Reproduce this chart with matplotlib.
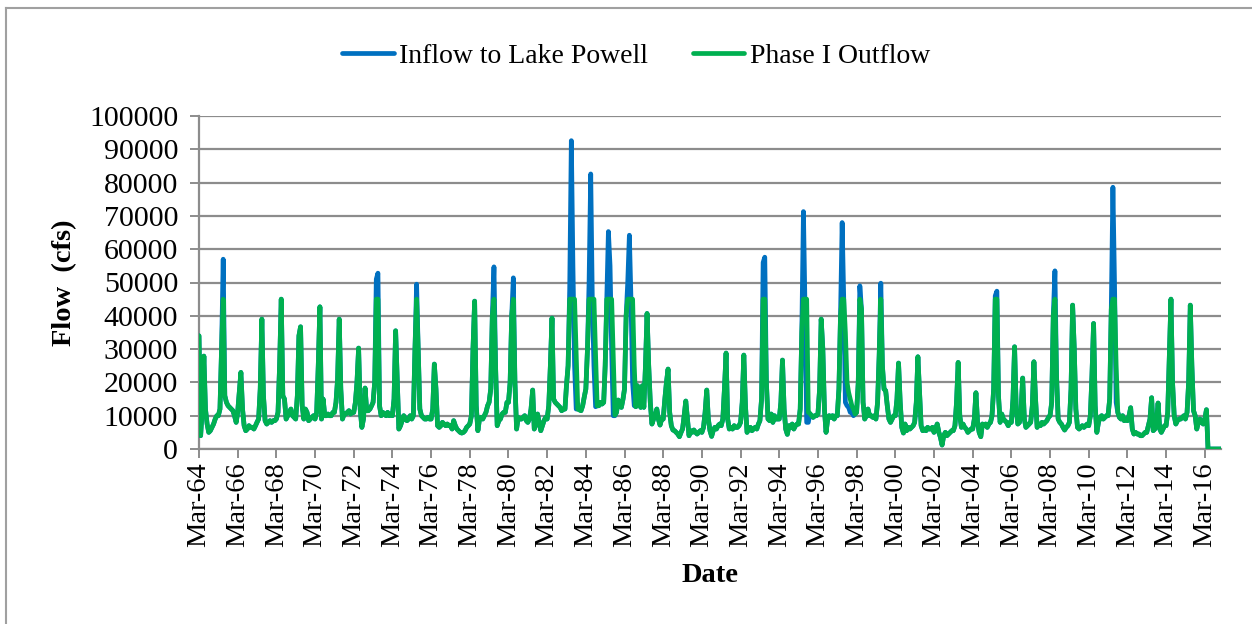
import matplotlib
matplotlib.use("Agg")
import matplotlib.pyplot as plt
import pandas as pd
from matplotlib.lines import Line2D

plt.rcParams['font.family'] = ['Liberation Serif', 'DejaVu Serif']

# Monthly mean flows in thousands of cfs; each row is one year running Mar..Feb
inflow_kcfs = [
    34, 4, 12, 27.9, 12, 7.5, 5, 5.5, 6.5, 7.5, 9, 10,            # 1964
    10, 12, 30, 57, 16, 14, 13, 12.5, 12, 11.5, 10, 8,            # 1965
    11, 17, 23, 12, 7, 5.5, 6, 7, 6.5, 6.5, 6, 7,                 # 1966
    8, 9, 18, 39, 16, 8.5, 7.5, 8, 8.5, 8, 8.5, 8.5,              # 1967
    9, 11, 25, 45, 16, 15, 9, 10, 11, 12, 10, 9.5,                # 1968
    9, 16, 34, 36.7, 13, 9, 12, 11, 8.5, 9, 9.5, 10,              # 1969
    9, 11, 25, 42.7, 9, 15, 10, 10, 10.5, 10, 10, 11,             # 1970
    11, 14, 21, 39, 18, 9, 10.5, 10.5, 11, 11.5, 10.5, 11,        # 1971
    11, 14, 20, 30.3, 12, 6.5, 9, 18.3, 11.5, 11.5, 12, 13,       # 1972
    14, 20, 51, 52.8, 13, 10, 11, 10.5, 10, 11, 10, 10.5,         # 1973
    10, 15, 35.5, 20, 6, 7, 8.5, 10, 9, 8.5, 9, 10,               # 1974
    9, 10, 30, 49.5, 30, 12, 10, 9.5, 9, 9, 9.5, 9,               # 1975
    9, 12, 25.5, 18, 7, 6.5, 7, 8, 7.5, 7, 7.5, 7,                # 1976
    7, 6, 8.5, 7, 6, 5.5, 5, 4.8, 5, 5.5, 6.5, 7,                 # 1977
    7.5, 10, 30, 44.4, 13, 5.5, 9, 9.5, 9, 10, 11, 13,            # 1978
    14, 18, 40, 54.7, 25, 7, 8.5, 9, 10.5, 11, 11, 14,            # 1979
    14, 20, 40, 51.4, 20, 6, 9.5, 9, 9, 9.5, 10, 8.5,             # 1980
    8, 9, 12, 17.7, 6, 7.5, 10.5, 8, 5.5, 7, 8.5, 9.5,            # 1981
    9, 13, 25, 39.3, 15, 14, 13.5, 13, 12.5, 11.5, 12, 12,        # 1982
    19, 25, 48, 92.6, 55, 25, 12, 12, 12, 11.5, 13, 15.7,         # 1983
    18, 30, 50, 82.6, 45, 25, 12.7, 13, 13, 14, 13.5, 14,         # 1984
    25, 45, 65.3, 55, 30, 10, 10, 11, 14.7, 13, 12.5, 15,         # 1985
    18, 40, 50, 64.2, 45, 20, 13, 12.7, 19, 15, 12.5, 19,         # 1986
    12.5, 25, 40.7, 25, 14, 7.5, 9, 10, 12, 9, 7.2, 9,            # 1987
    9, 15, 20, 24, 11, 7, 5.7, 5.5, 5, 4.5, 3.7, 5,               # 1988
    6, 10, 14.4, 9, 4, 5.5, 5, 5.7, 5, 4.5, 5, 5.5,               # 1989
    5, 6.5, 11, 17.7, 9, 5.5, 3.8, 5.5, 6.5, 6, 7, 7.5,           # 1990
    7, 9, 18, 28.8, 9, 6, 6.5, 6, 7, 6.5, 6.5, 7,                 # 1991
    8, 14, 28.2, 13, 5, 6, 6.5, 5.5, 6, 6.5, 6, 7.5,              # 1992
    8.5, 15, 56, 57.6, 20, 9, 8.5, 10.5, 8, 10, 9, 9,             # 1993
    9, 14, 26.7, 12, 6, 4.4, 7, 6.5, 7.5, 6, 7, 7.5,              # 1994
    7.5, 12, 35, 71.3, 42, 8, 8, 10.5, 10, 9.5, 10, 10,           # 1995
    10.5, 18, 39, 30, 12, 5, 9, 10, 9.5, 10, 9, 10,               # 1996
    10, 18, 40, 68, 45, 14, 13, 12.5, 11, 11, 10, 10.5,           # 1997
    11, 20, 49, 42, 14, 9, 10, 12, 10, 10, 9.5, 10,               # 1998
    9, 14, 28, 49.8, 25, 18, 17.5, 13, 9, 8, 9, 10,               # 1999
    10, 15, 25.8, 14, 6.5, 4.8, 7.5, 5.5, 6.5, 6, 6.5, 7,         # 2000
    8, 14, 27.7, 17, 7, 5.5, 6, 5.5, 6.5, 6, 6, 6.5,              # 2001
    5, 6, 7.5, 5, 3.5, 1.2, 4, 5, 4, 4.5, 5, 5.5,                 # 2002
    5.5, 7, 14, 26, 10, 6.5, 7.5, 6.5, 6, 5, 5.5, 6,              # 2003
    6, 9, 16.9, 8, 5, 3.7, 7.5, 7, 7.5, 6.5, 7.5, 8,              # 2004
    10, 18, 46, 47.4, 16, 8, 10.5, 9, 8.5, 8, 7, 8,               # 2005
    8, 15, 30.7, 12, 7.5, 8, 12, 21.3, 9, 6.5, 7, 7.5,            # 2006
    8, 13, 26.2, 15, 6.5, 7.5, 7, 8, 7.5, 8, 8.5, 9.5,            # 2007
    10, 14, 40, 53.5, 22, 9, 8, 7.5, 6.5, 5.7, 6.5, 7,            # 2008
    8, 18, 43.2, 30, 12, 6.5, 6, 6.5, 7, 6.5, 7, 7.5,             # 2009
    7, 10, 22, 37.7, 13, 5, 8, 9.5, 10, 9, 9.5, 10,               # 2010
    10, 15, 42, 78.6, 50, 14, 11, 9.5, 9, 10, 8.5, 9,             # 2011
    8.5, 10, 12.4, 6, 4.5, 5, 4.5, 4.5, 4, 4, 4.5, 5,             # 2012
    5, 7, 9, 15.4, 5.5, 6, 8, 13.8, 6, 5, 6, 7,                   # 2013
    7, 11, 28, 45, 20, 10, 7.5, 8.5, 9, 9, 9.5, 10,               # 2014
    9, 11, 20, 43.2, 25, 11.5, 10, 6, 8, 9, 8, 7.5,               # 2015
    9, 11.8, 0, 0, 0, 0, 0, 0, 0, 0, 0,                           # 2016
]

outflow_kcfs = [
    34, 4, 12, 27.9, 12, 7.5, 5, 5.5, 6.5, 7.5, 9, 10,            # 1964
    10, 12, 30, 45, 16, 14, 13, 12.5, 12, 11.5, 10, 8,            # 1965
    11, 17, 23, 12, 7, 5.5, 6, 7, 6.5, 6.5, 6, 7,                 # 1966
    8, 9, 18, 39, 16, 8.5, 7.5, 8, 8.5, 8, 8.5, 8.5,              # 1967
    9, 11, 25, 45, 16, 15, 9, 10, 11, 12, 10, 9.5,                # 1968
    9, 16, 34, 36.7, 13, 9, 12, 11, 8.5, 9, 9.5, 10,              # 1969
    9, 11, 25, 42.7, 9, 15, 10, 10, 10.5, 10, 10, 11,             # 1970
    11, 14, 21, 39, 18, 9, 10.5, 10.5, 11, 11.5, 10.5, 11,        # 1971
    11, 14, 20, 30.3, 12, 6.5, 9, 18.3, 11.5, 11.5, 12, 13,       # 1972
    14, 20, 45, 45, 13, 10, 11, 10.5, 10, 11, 10, 10.5,           # 1973
    10, 15, 35.5, 20, 6, 7, 8.5, 10, 9, 8.5, 9, 10,               # 1974
    9, 10, 30, 45, 30, 12, 10, 9.5, 9, 9, 9.5, 9,                 # 1975
    9, 12, 25.5, 18, 7, 6.5, 7, 8, 7.5, 7, 7.5, 7,                # 1976
    7, 6, 8.5, 7, 6, 5.5, 5, 4.8, 5, 5.5, 6.5, 7,                 # 1977
    7.5, 10, 30, 44.4, 13, 5.5, 9, 9.5, 9, 10, 11, 13,            # 1978
    14, 18, 40, 45, 25, 7, 8.5, 9, 10.5, 11, 11, 14,              # 1979
    14, 20, 40, 45, 20, 6, 9.5, 9, 9, 9.5, 10, 8.5,               # 1980
    8, 9, 12, 17.7, 6, 7.5, 10.5, 8, 5.5, 7, 8.5, 9.5,            # 1981
    9, 13, 25, 39.3, 15, 14, 13.5, 13, 12.5, 11.5, 12, 12,        # 1982
    19, 25, 45, 45, 45, 45, 28, 12, 11.7, 11.5, 13, 15.7,         # 1983
    18, 30, 45, 45, 45, 45, 28, 13, 13, 14, 13.5, 14,             # 1984
    25, 45, 45, 45, 45, 28, 10.2, 11, 14.7, 13, 12.5, 15,         # 1985
    18, 40, 45, 45, 45, 45, 25, 12.7, 19, 15, 12.5, 19,           # 1986
    12.5, 25, 40.7, 25, 14, 7.5, 9, 10, 12, 9, 7.2, 9,            # 1987
    9, 15, 20, 24, 11, 7, 5.7, 5.5, 5, 4.5, 3.7, 5,               # 1988
    6, 10, 14.4, 9, 4, 5.5, 5, 5.7, 5, 4.5, 5, 5.5,               # 1989
    5, 6.5, 11, 17.7, 9, 5.5, 3.8, 5.5, 6.5, 6, 7, 7.5,           # 1990
    7, 9, 18, 28.8, 9, 6, 6.5, 6, 7, 6.5, 6.5, 7,                 # 1991
    8, 14, 28.2, 13, 5, 6, 6.5, 5.5, 6, 6.5, 6, 7.5,              # 1992
    8.5, 15, 45, 45, 20, 9, 8.5, 10.5, 8, 10, 9, 9,               # 1993
    9, 14, 26.7, 12, 6, 4.4, 7, 6.5, 7.5, 6, 7, 7.5,              # 1994
    7.5, 12, 35, 45, 45, 45, 11, 10.7, 10, 9.5, 10, 10,           # 1995
    10.5, 18, 39, 30, 12, 5, 9, 10, 9.5, 10, 9, 10,               # 1996
    10, 18, 40, 45, 45, 35, 20, 17, 15, 13, 12, 10.5,             # 1997
    11, 20, 45, 42, 14, 9, 10, 12, 10, 10, 9.5, 10,               # 1998
    9, 14, 28, 45, 25, 18, 17.5, 13, 9, 8, 9, 10,                 # 1999
    10, 15, 25.8, 14, 6.5, 4.8, 7.5, 5.5, 6.5, 6, 6.5, 7,         # 2000
    8, 14, 27.7, 17, 7, 5.5, 6, 5.5, 6.5, 6, 6, 6.5,              # 2001
    5, 6, 7.5, 5, 3.5, 1.2, 4, 5, 4, 4.5, 5, 5.5,                 # 2002
    5.5, 7, 14, 26, 10, 6.5, 7.5, 6.5, 6, 5, 5.5, 6,              # 2003
    6, 9, 16.9, 8, 5, 3.7, 7.5, 7, 7.5, 6.5, 7.5, 8,              # 2004
    10, 18, 45, 45, 16, 8, 10.5, 9, 8.5, 8, 7, 8,                 # 2005
    8, 15, 30.7, 12, 7.5, 8, 12, 21.3, 9, 6.5, 7, 7.5,            # 2006
    8, 13, 26.2, 15, 6.5, 7.5, 7, 8, 7.5, 8, 8.5, 9.5,            # 2007
    10, 14, 40, 45, 22, 9, 8, 7.5, 6.5, 5.7, 6.5, 7,              # 2008
    8, 18, 43.2, 30, 12, 6.5, 6, 6.5, 7, 6.5, 7, 7.5,             # 2009
    7, 10, 22, 37.7, 13, 5, 8, 9.5, 10, 9, 9.5, 10,               # 2010
    10, 15, 42, 45, 45, 25, 11, 9.5, 9, 10, 8.5, 9,               # 2011
    8.5, 10, 12.4, 6, 4.5, 5, 4.5, 4.5, 4, 4, 4.5, 5,             # 2012
    5, 7, 9, 15.4, 5.5, 6, 8, 13.8, 6, 5, 6, 7,                   # 2013
    7, 11, 28, 45, 20, 10, 7.5, 8.5, 9, 9, 9.5, 10,               # 2014
    9, 11, 20, 43.2, 25, 11.5, 10, 6, 8, 9, 8, 7.5,               # 2015
    9, 11.8, 0, 0, 0, 0, 0, 0, 0, 0, 0,                           # 2016
]

series_labels = ["Inflow to Lake Powell", "Phase I Outflow"]
first_month = "1964-03"
x_tick_labels = ["Mar-64", "Mar-66", "Mar-68", "Mar-70", "Mar-72", "Mar-74",
                 "Mar-76", "Mar-78", "Mar-80", "Mar-82", "Mar-84", "Mar-86",
                 "Mar-88", "Mar-90", "Mar-92", "Mar-94", "Mar-96", "Mar-98",
                 "Mar-00", "Mar-02", "Mar-04", "Mar-06", "Mar-08", "Mar-10",
                 "Mar-12", "Mar-14", "Mar-16"]
y_ticks = [0, 10000, 20000, 30000, 40000, 50000, 60000, 70000, 80000, 90000, 100000]

months = pd.date_range(first_month, periods=len(inflow_kcfs), freq="MS")
inflow = pd.Series(inflow_kcfs, index=months) * 1000
outflow = pd.Series(outflow_kcfs, index=months) * 1000

W, H = 1252, 624
fig = plt.figure(figsize=(W / 100, H / 100), dpi=100)
fig.patch.set_facecolor("white")

x0, x1, y_top, y_bot = 199, 1221, 116, 449
ax = fig.add_axes([x0 / W, 1 - y_bot / H, (x1 - x0) / W, (y_bot - y_top) / H])

blue = "#0070C0"
green = "#00B050"
grid_grey = "#8c8c8c"
FS = 20.5

l1, = ax.plot(months, inflow.values, color=blue, lw=3.4,
              solid_joinstyle="round", solid_capstyle="round", zorder=3)
l2, = ax.plot(months, outflow.values, color=green, lw=3.4,
              solid_joinstyle="round", solid_capstyle="round", zorder=4)

ax.set_xlim(months[0], months[-1])
ax.set_ylim(0, 100000)
ax.set_yticks(y_ticks)
ax.set_yticklabels([str(v) for v in y_ticks])
ax.set_xticks(months[::24][:len(x_tick_labels)])
ax.set_xticklabels(x_tick_labels, rotation=90, va="top", ha="center")

ax.yaxis.grid(True, color=grid_grey, lw=1.6)
ax.xaxis.grid(False)
ax.set_axisbelow(True)
for side in ("top", "right"):
    ax.spines[side].set_visible(False)
for side in ("left", "bottom"):
    ax.spines[side].set_color(grid_grey)
    ax.spines[side].set_linewidth(1.6)
    ax.spines[side].set_zorder(2)

ax.tick_params(axis="both", direction="out", length=6.5, width=1.4,
               color=grid_grey, labelsize=FS, pad=3, labelcolor="black")
ax.tick_params(axis="y", pad=8.5, labelsize=21.5)

fig.text(65 / W, 1 - 283 / H, "Flow  (cfs)", rotation=90, ha="center",
         va="center", fontsize=FS, fontweight="bold")
fig.text((x0 + x1) / 2 / W, 1 - 576 / H, "Date", ha="center", va="center",
         fontsize=FS, fontweight="bold")

fig.legend([l1, l2], series_labels, loc="center",
           bbox_to_anchor=(636 / W, 1 - 56 / H), ncol=2, frameon=False,
           fontsize=20, handlelength=1.85, handletextpad=0.2,
           columnspacing=1.6)

# outer chart border (left and top edges)
border = "#a0a0a0"
fig.add_artist(Line2D([6 / W, 6 / W], [0, 1 - 8 / H], color=border, lw=1.5,
                      transform=fig.transFigure))
fig.add_artist(Line2D([6 / W, 1], [1 - 8 / H, 1 - 8 / H], color=border, lw=1.5,
                      transform=fig.transFigure))

fig.savefig("out.png", dpi=100, facecolor="white")
